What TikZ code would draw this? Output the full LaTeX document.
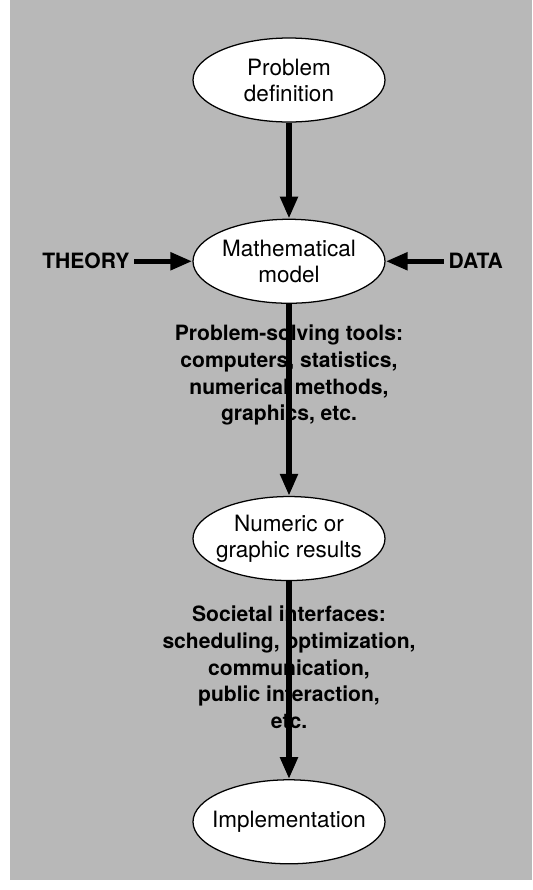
\documentclass[tikz,border=0pt]{standalone}
\usepackage{fontspec}
\setmainfont{TeX Gyre Heros}
\usetikzlibrary{shapes.geometric,arrows.meta,positioning}
\definecolor{paper}{gray}{0.72}

\begin{document}
\begin{tikzpicture}[node distance=2.4cm, auto,
    stage/.style={ellipse, draw, line width=0.9pt, fill=white,
      minimum width=4.8cm, minimum height=2.1cm, inner xsep=-0.3cm,
      align=center, font=\fontsize{16}{18.5}\selectfont},
    note/.style={align=center, font=\bfseries\fontsize{15}{19}\selectfont},
    flow/.style={line width=3.9pt, -{Triangle[length=0.55cm,width=0.42cm]}}]
      \useasboundingbox (-7.225,2.0) rectangle (6.075,-20.25);
      \fill[paper] (-6.975,2.0) rectangle (6.075,-20.0);
      \node[stage] (prob) {Problem\\definition};
      \node[stage] (math) [below=of prob] {Mathematical\\model};
      \node[note] (theory) [left=1.45cm of math] {THEORY};
      \node[note] (data) [right=1.45cm of math] {DATA};
      \node[stage] (num) [below=4.8cm of math] {Numeric or\\graphic results};
      \node[stage] (impl) [below=4.95cm of num] {Implementation};
      \path[flow]
      (prob) edge (math)
      (theory) edge (math)
      (data) edge (math)
      (math) edge (num)
      (num) edge (impl);
      \node[note] (tools) [below=0.4cm of math]
        {Problem-solving tools:\\computers, statistics,\\numerical methods,\\graphics, etc.};
      \node[note] (society) [below=0.5cm of num]
        {Societal interfaces:\\scheduling, optimization,\\communication,\\public interaction,\\etc.};
    \end{tikzpicture}
\end{document}
